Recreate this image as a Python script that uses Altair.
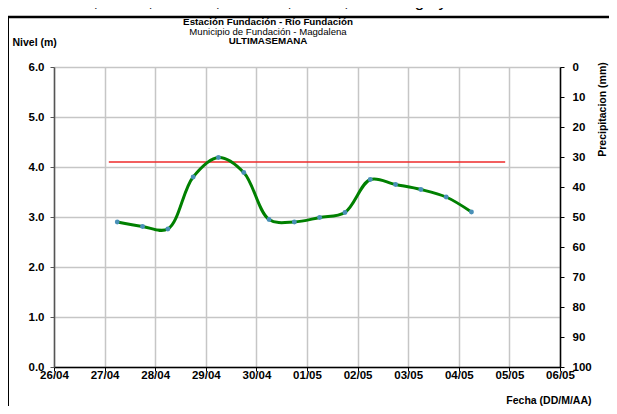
import altair as alt
import pandas as pd

# ---------------- data ----------------
titulo_superior = "Manzanares, Minca, Piedras, Buritaca, Ancho, Don Diego y Palomino."
titulo_1 = "Estación Fundación - Río Fundación"
titulo_2 = "Municipio de Fundación - Magdalena"
titulo_3 = "ULTIMASEMANA"

fechas = [
    "2024-04-27T06:00", "2024-04-27T18:00", "2024-04-28T06:00", "2024-04-28T18:00",
    "2024-04-29T06:00", "2024-04-29T18:00", "2024-04-30T06:00", "2024-04-30T18:00",
    "2024-05-01T06:00", "2024-05-01T18:00", "2024-05-02T06:00", "2024-05-02T18:00",
    "2024-05-03T06:00", "2024-05-03T18:00", "2024-05-04T06:00",
]
nivel = [2.90, 2.81, 2.76, 3.80, 4.19, 3.89, 2.95, 2.90, 2.99, 3.09, 3.75, 3.65, 3.55, 3.40, 3.10]

umbral_fechas = ["2024-04-27T02:00", "2024-05-04T22:00"]
umbral_valor = [4.1, 4.1]

dias_eje = [(4, 26), (4, 27), (4, 28), (4, 29), (4, 30), (5, 1), (5, 2), (5, 3), (5, 4), (5, 5), (5, 6)]
nivel_ticks = [0, 1, 2, 3, 4, 5, 6]
precip_ticks = [0, 10, 20, 30, 40, 50, 60, 70, 80, 90, 100]

# ---------------- style ----------------
FONT = "Liberation Sans"
W, H = 506, 300
GRID = "#c6c6c6"

df = pd.DataFrame({"fecha": fechas, "nivel": nivel})
df_umbral = pd.DataFrame({"fecha": umbral_fechas, "nivel": umbral_valor})
df_precip = pd.DataFrame({"p": precip_ticks})
one = pd.DataFrame({"k": [0]})

x_scale = alt.Scale(domain=[alt.DateTime(year=2024, month=4, date=26),
                            alt.DateTime(year=2024, month=5, date=6)])
x_values = [alt.DateTime(year=2024, month=m, date=d) for m, d in dias_eje]

x_axis = alt.Axis(
    values=x_values, format="%d/%m", title="Fecha (DD/M/AA)",
    grid=True, gridColor=GRID, gridWidth=1.5,
    domainColor="black", domainWidth=1.5, tickColor="black", tickSize=4,
    labelFont=FONT, labelFontWeight="bold", labelFontSize=11.5, labelColor="black",
    labelPadding=-1.5, labelFlush=False,
    titleFont=FONT, titleFontWeight="bold", titleFontSize=10.5, titleColor="black",
    titleX=537, titleY=36, titleAlign="right", titleBaseline="alphabetic", titleAnchor="end",
)
y_axis = alt.Axis(
    values=nivel_ticks, format=".1f", title="Nivel (m)", orient="left",
    grid=True, gridColor=GRID, gridWidth=1.5,
    domainColor="#555555", domainWidth=1.5, tickColor="#555555", tickSize=4,
    labelFont=FONT, labelFontWeight="bold", labelFontSize=11.5, labelColor="black",
    labelPadding=6,
    titleFont=FONT, titleFontWeight="bold", titleFontSize=10.5, titleColor="black",
    titleAngle=0, titleX=-42, titleY=-22, titleAlign="left", titleBaseline="alphabetic",
)

X = alt.X("fecha:T", scale=x_scale, axis=x_axis)
Y = alt.Y("nivel:Q", scale=alt.Scale(domain=[0, 6]), axis=y_axis)

umbral = alt.Chart(df_umbral).mark_line(color="#ee2a2a", strokeWidth=1.5).encode(x=X, y=Y)
linea = alt.Chart(df).mark_line(color="#008000", strokeWidth=3, interpolate="catmull-rom").encode(x=X, y=Y)
puntos = alt.Chart(df).mark_point(filled=True, color="#4a90b8", size=24, opacity=1).encode(x=X, y=Y)

precip = alt.Chart(df_precip).mark_point(opacity=0).encode(
    y=alt.Y("p:Q", scale=alt.Scale(domain=[0, 100], reverse=True),
            axis=alt.Axis(
                orient="right", values=precip_ticks, title="Precipitacion (mm)", grid=False,
                domainColor="black", domainWidth=1.5, tickColor="black", tickSize=4,
                labelFont=FONT, labelFontWeight="bold", labelFontSize=11.5, labelColor="black",
                labelPadding=8,
                titleFont=FONT, titleFontWeight="bold", titleFontSize=10.5, titleColor="black",
                titleAngle=270, titleX=42, titleY=42, titleAlign="center", titleBaseline="middle",
            ))
)

def texto(t, x, y, size, weight="normal", align="center"):
    return alt.Chart(pd.DataFrame({"t": [t]})).mark_text(
        font=FONT, fontSize=size, fontWeight=weight, color="black", align=align,
        baseline="alphabetic"
    ).encode(text="t:N", x=alt.value(x), y=alt.value(y))

t0 = texto(titulo_superior, -54, -60, 17, align="left")
t1 = texto(titulo_1, 214, -41.8, 9.8, "bold")
t2 = texto(titulo_2, 214, -32.3, 9.6)
t3 = texto(titulo_3, 214, -22.8, 9.8, "bold")

marco_sup = alt.Chart(one).mark_rule(color="black", strokeWidth=2.5).encode(
    x=alt.value(-49), x2=alt.value(560), y=alt.value(-50))
marco_izq = alt.Chart(one).mark_rule(color="black", strokeWidth=4).encode(
    x=alt.value(-47), y=alt.value(-51), y2=alt.value(345))

nivel_chart = alt.layer(umbral, linea, puntos)
chart = alt.layer(
    nivel_chart, precip, t0, t1, t2, t3, marco_sup, marco_izq
).resolve_scale(y="independent").properties(
    width=W, height=H,
    autosize=alt.AutoSizeParams(type="none"),
    padding={"left": 46, "top": 59, "right": 49, "bottom": 39},
).configure_view(stroke=None).configure(background="white")

chart.save("out.html", embed_options={"renderer": "svg", "actions": False})
